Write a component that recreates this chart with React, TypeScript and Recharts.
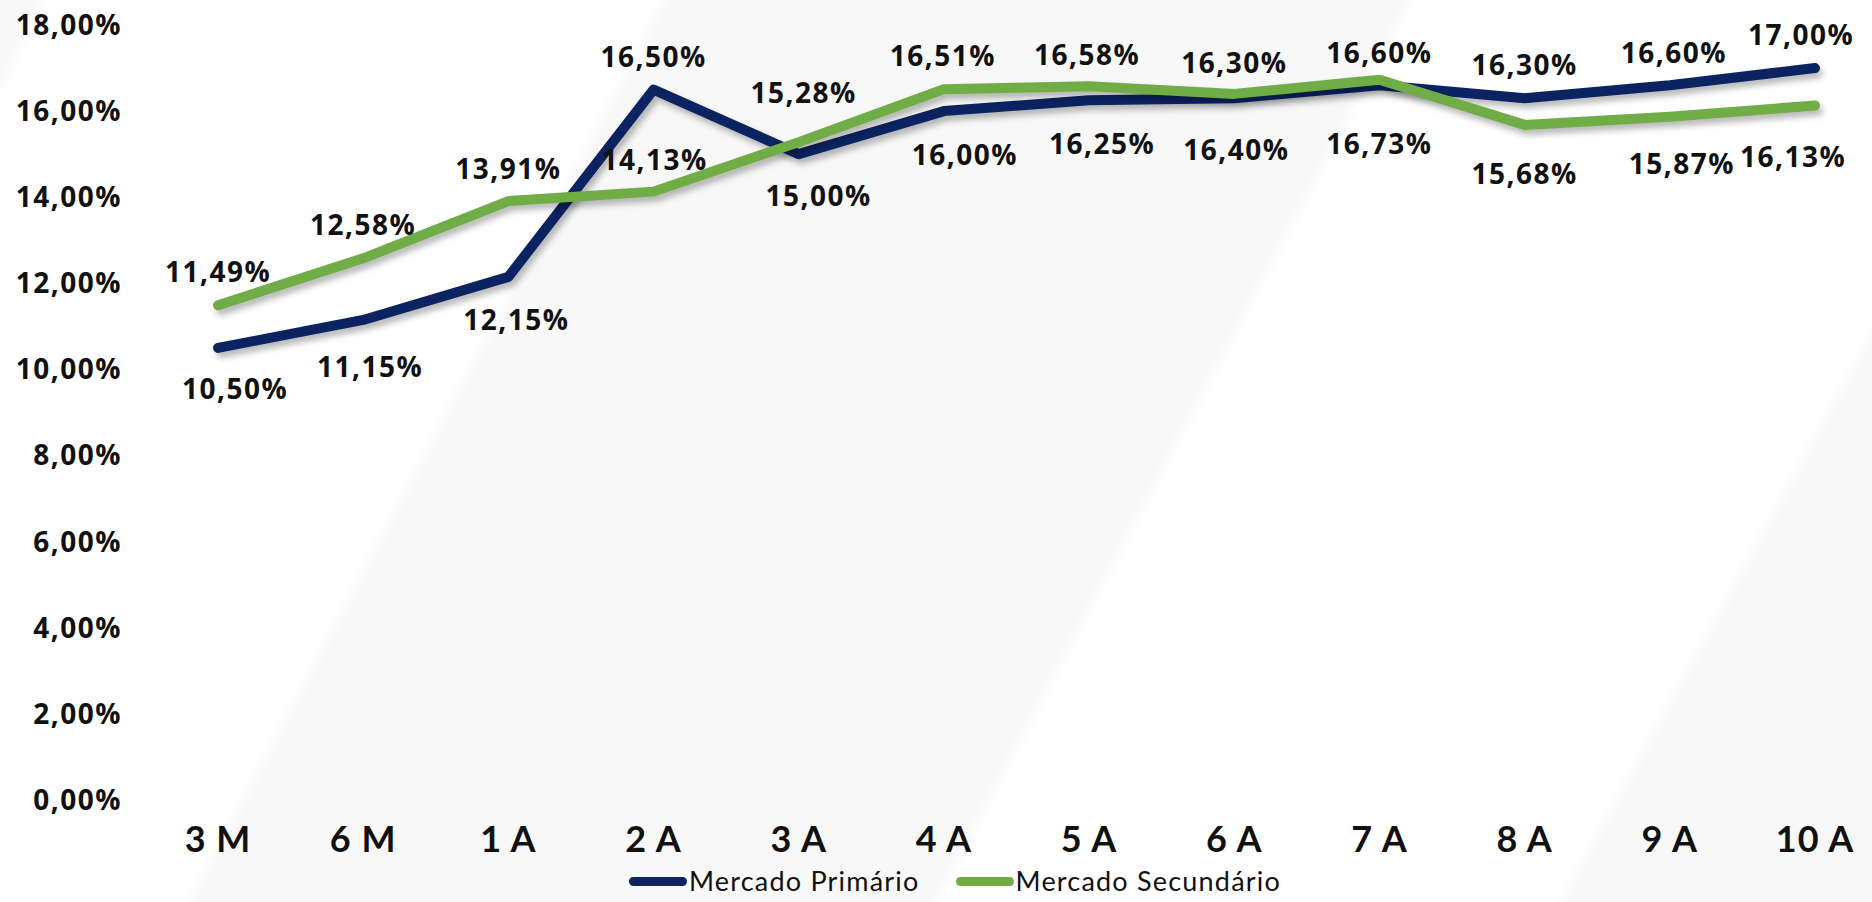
import React from 'react';
import { LineChart, Line, XAxis, YAxis, Legend, LabelList } from 'recharts';

const prazos = ['3 M', '6 M', '1 A', '2 A', '3 A', '4 A', '5 A', '6 A', '7 A', '8 A', '9 A', '10 A'];
const mercadoPrimario = [10.5, 11.15, 12.15, 16.5, 15.0, 16.0, 16.25, 16.3, 16.6, 16.3, 16.6, 17.0];
const mercadoSecundario = [11.49, 12.58, 13.91, 14.13, 15.28, 16.51, 16.58, 16.4, 16.73, 15.68, 15.87, 16.13];
const yTicks = [0, 2, 4, 6, 8, 10, 12, 14, 16, 18];

// where each value label sits relative to its point (px)
const primarioLabelDx = [17, 7, 8, 0, 20, 21, 13, 0, 0, 0, 4, -14];
const primarioLabelDy = [41, 47, 43, -33, 42, 44, 44, -35, -32, -33, -32, -33];
const secundarioLabelDx = [0, 0, 0, 1, 5, -1, -2, 2, 0, 0, 12, -22];
const secundarioLabelDy = [-33, -33, -32, -32, -49, -33, -31, 56, 64, 49, 47, 51];

const AZUL = '#0b2361';
const VERDE = '#70ad47';

const data = prazos.map((prazo, i) => ({
  prazo,
  primario: mercadoPrimario[i],
  secundario: mercadoSecundario[i],
}));

const pct = (v: number) => `${Number(v).toFixed(2).replace('.', ',')}%`;

const labelFont = {
  fontFamily: 'Open Sans',
  fontWeight: 700,
  fontSize: 28,
  letterSpacing: 1.5,
  fill: '#111',
};

const makeLabel = (dx: number[], dy: number[]) => (props: any) => {
  const { x, y, value, index } = props;
  return (
    <text
      x={x + dx[index]}
      y={y + dy[index] + 10}
      textAnchor="middle"
      style={labelFont}
    >
      {pct(value)}
    </text>
  );
};

const renderLegend = () => (
  <div
    style={{
      height: 30,
      display: 'flex',
      alignItems: 'center',
      paddingLeft: 629,
      fontFamily: 'Lato',
      fontSize: 27,
      letterSpacing: 1.2,
      color: '#111',
      transform: 'translateY(-6px)',
    }}
  >
    {[
      { name: 'Mercado Primário', color: AZUL },
      { name: 'Mercado Secundário', color: VERDE },
    ].map((item) => (
      <div key={item.name} style={{ display: 'flex', alignItems: 'center', marginRight: 36 }}>
        <span
          style={{
            display: 'inline-block',
            width: 58,
            height: 9,
            borderRadius: 5,
            background: item.color,
            marginRight: 2,
          }}
        />
        <span style={{ lineHeight: '30px', whiteSpace: 'nowrap' }}>{item.name}</span>
      </div>
    ))}
  </div>
);

export default function App() {
  return (
    <div style={{ position: 'absolute', left: 0, top: 0, width: 1872, height: 902, background: '#fff', overflow: 'hidden' }}>
      <style>{`.recharts-line-curve { filter: drop-shadow(3px 5px 3px rgba(0,0,0,0.28)); }`}</style>
      <svg width={1872} height={902} style={{ position: 'absolute', left: 0, top: 0 }}>
        <defs>
          <filter id="soft" x="-10%" y="-10%" width="120%" height="120%">
            <feGaussianBlur stdDeviation="6" />
          </filter>
        </defs>
        <g fill="#f8f8f8" filter="url(#soft)">
          <polygon points="-20,-20 50,-20 0,90 -20,90" />
          <polygon points="675,-20 1420,-20 924,922 179,922" />
          <polygon points="2066,-20 1900,-20 1900,922 1550,922" />
        </g>
      </svg>
      <LineChart width={1872} height={902} data={data} margin={{ top: 25, right: 0, bottom: 0, left: 0 }}>
        <XAxis
          dataKey="prazo"
          axisLine={false}
          tickLine={false}
          tickSize={0}
          tickMargin={26}
          height={72}
          interval={0}
          padding={{ left: 88, right: 57 }}
          tick={{ fill: '#111', fontFamily: 'Lato', fontWeight: 700, fontSize: 36, letterSpacing: 1 }}
        />
        <YAxis
          domain={[0, 18]}
          ticks={yTicks}
          axisLine={false}
          tickLine={false}
          tickSize={0}
          tickMargin={8}
          width={130}
          tickFormatter={pct}
          tick={{ fill: '#111', fontFamily: 'Open Sans', fontWeight: 700, fontSize: 28, letterSpacing: 1.5 }}
        />
        <Legend verticalAlign="bottom" content={renderLegend} />
        <Line
          name="Mercado Primário"
          dataKey="primario"
          stroke={AZUL}
          strokeWidth={10}
          strokeLinecap="round"
          strokeLinejoin="round"
          dot={false}
          activeDot={false}
          isAnimationActive={false}
        >
          <LabelList dataKey="primario" content={makeLabel(primarioLabelDx, primarioLabelDy)} />
        </Line>
        <Line
          name="Mercado Secundário"
          dataKey="secundario"
          stroke={VERDE}
          strokeWidth={10}
          strokeLinecap="round"
          strokeLinejoin="round"
          dot={false}
          activeDot={false}
          isAnimationActive={false}
        >
          <LabelList dataKey="secundario" content={makeLabel(secundarioLabelDx, secundarioLabelDy)} />
        </Line>
      </LineChart>
    </div>
  );
}
